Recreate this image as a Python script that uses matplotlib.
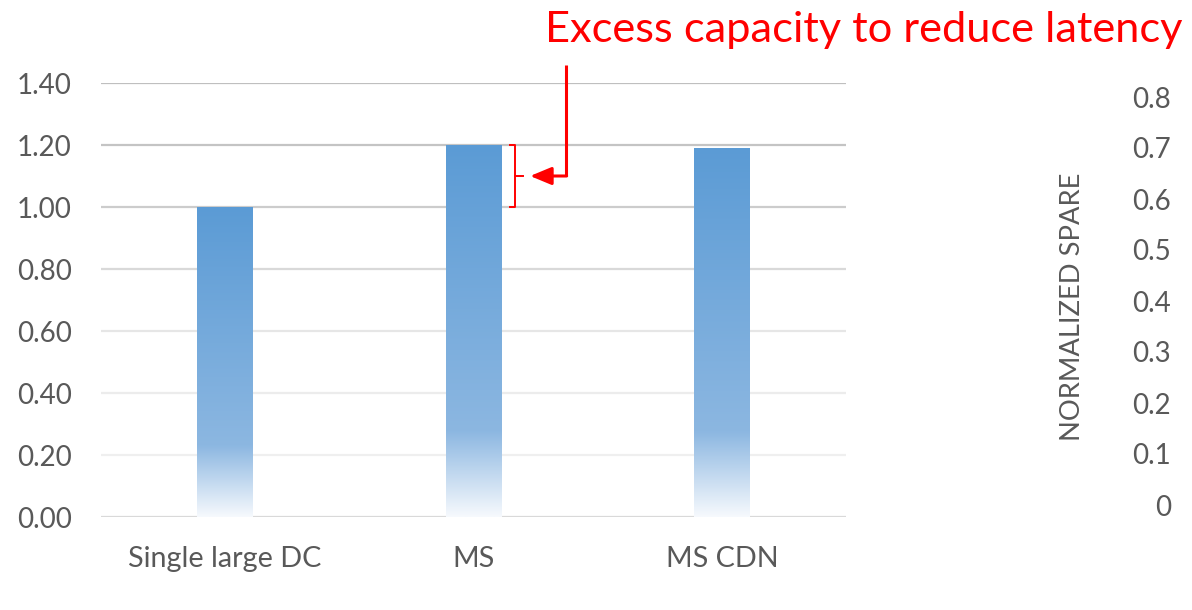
import numpy as np
import matplotlib
matplotlib.use('Agg')
import matplotlib.pyplot as plt
from matplotlib.colors import LinearSegmentedColormap

plt.rcParams['font.family'] = ['Lato', 'DejaVu Sans']

# data
categories = ['Single large DC', 'MS', 'MS CDN']
capacity = [1.00, 1.20, 1.19]
left_ticks = [0.0, 0.2, 0.4, 0.6, 0.8, 1.0, 1.2, 1.4]
right_ticks = [0.0, 0.1, 0.2, 0.3, 0.4, 0.5, 0.6, 0.7, 0.8]
note = 'Excess capacity to reduce latency'

TEXT = '#595959'
BAR_W = 0.225

# gradient fill: solid blue at the top fading to white at the base
grad = LinearSegmentedColormap.from_list(
    'bar_grad',
    [(0.0, (91/255, 155/255, 213/255)),
     (0.77, (140/255, 183/255, 225/255)),
     (1.0, (246/255, 249/255, 253/255))])

fig = plt.figure(figsize=(11.92, 6.10), dpi=100)
ax = fig.add_axes([101/1192, 93/610, 745/1192, 434/610])

# grid lines get lighter towards the bottom
grid_grays = ['#d9d9d9', '#efefef', '#ececec', '#e6e6e6', '#d9d9d9', '#cccccc', '#c4c4c4', '#bfbfbf']
for yv, c in zip(left_ticks, grid_grays):
    ax.axhline(yv, color=c, linewidth=1.6, zorder=1)

x = np.arange(len(categories))
grad_img = np.linspace(0, 1, 256).reshape(-1, 1)
for xi, h in zip(x, capacity):
    ax.imshow(grad_img, cmap=grad, aspect='auto', zorder=2,
              extent=(xi - BAR_W / 2, xi + BAR_W / 2, 0, h),
              interpolation='bilinear')

ax.set_xlim(-0.5, len(categories) - 0.5)
ax.set_ylim(0, 1.4)
ax.set_yticks(left_ticks)
ax.set_yticklabels([f'{v:.2f}' for v in left_ticks])
ax.set_xticks(x)
ax.set_xticklabels(categories)
ax.tick_params(axis='y', length=0, pad=21, labelsize=20, labelcolor=TEXT)
ax.tick_params(axis='x', length=0, pad=21, labelsize=20.7, labelcolor=TEXT)
for s in ax.spines.values():
    s.set_visible(False)

# bracket marking the gap between MS and the single DC
ms = capacity[1]
base = capacity[0]
bx = 1.169
red = '#ff0000'
ax.plot([bx - 0.022, bx, bx, bx - 0.022], [ms, ms, base, base],
        color=red, linewidth=1.4, clip_on=False, zorder=4)
mid = (ms + base) / 2
ax.plot([bx, bx + 0.03], [mid, mid], color=red, linewidth=1.4, zorder=4)

# elbow arrow from the note down to the bracket
ax_x = 1.371
ax.plot([ax_x, ax_x], [1.458, mid], color=red, linewidth=2.2,
        clip_on=False, solid_capstyle='butt', zorder=4)
ax.annotate('', xy=(1.228, mid), xytext=(ax_x + 0.004, mid),
            arrowprops=dict(arrowstyle='-|>,head_length=0.65,head_width=0.27',
                            mutation_scale=20, color=red, linewidth=2.2,
                            shrinkA=0, shrinkB=0),
            zorder=4)

fig.text(545/1192, (610 - 42)/610, note, color=red, fontsize=31.2,
         ha='left', va='baseline')

# secondary scale on the right
ax2 = fig.add_axes([1171/1192, 105/610, 0.0001, 408/610])
ax2.set_ylim(0, 0.8)
ax2.set_yticks(right_ticks)
ax2.set_yticklabels([f'{v:g}' for v in right_ticks])
ax2.set_xticks([])
ax2.tick_params(axis='y', length=0, pad=0, labelsize=20, labelcolor=TEXT)
for s in ax2.spines.values():
    s.set_visible(False)
ax2.patch.set_visible(False)

fig.text(1072/1192, (610 - 307)/610, 'NORMALIZED SPARE', rotation=90,
         color=TEXT, fontsize=19.7, ha='center', va='center')

fig.savefig('out.png', dpi=100)
